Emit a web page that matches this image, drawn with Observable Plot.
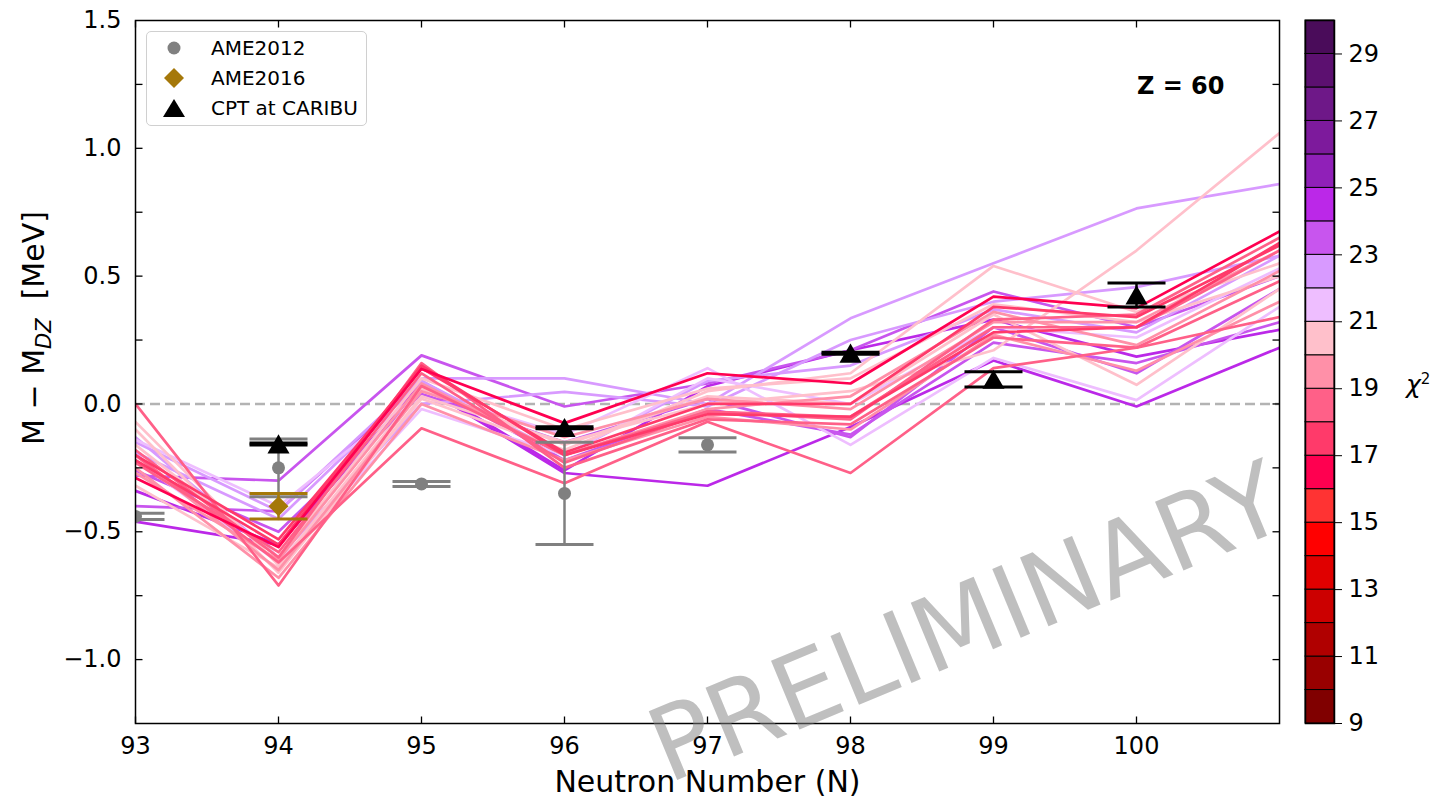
<!DOCTYPE html>
<html>
<head>
<meta charset="utf-8">
<script src="https://cdn.jsdelivr.net/npm/d3@7"></script>
<script src="https://cdn.jsdelivr.net/npm/@observablehq/plot@0.6"></script>
<style>
  html, body { margin: 0; padding: 0; background: #fff; }
  #wrap { position: relative; width: 1439px; height: 807px; overflow: hidden; font-family: "DejaVu Sans", sans-serif; background: #fff; }
  #main { position: absolute; left: 0; top: 0; }
  #cbar { position: absolute; left: 1290px; top: 0; }
  #legend { position: absolute; left: 146px; top: 31px; width: 219px; height: 93px; border: 1.5px solid #d0d0d0; border-radius: 5px; background: rgba(255,255,255,0.85); font-size: 20px; }
  .lrow { position: absolute; left: 0; height: 24px; display: flex; align-items: center; }
  .lrow svg { position: absolute; left: 14px; }
  .lrow span { position: absolute; left: 64px; white-space: nowrap; line-height: 24px; }
  #chilabel { position: absolute; left: 1406px; top: 370px; font-size: 25px; }
</style>
</head>
<body>
<div id="wrap">
  <div id="main"></div>
  <div id="cbar"></div>
  <div id="legend">
    <div class="lrow" style="top:4px"><svg width="26" height="24"><circle cx="13" cy="12" r="6.5" fill="#808080"/></svg><span>AME2012</span></div>
    <div class="lrow" style="top:34px"><svg width="26" height="24"><path d="M13,2L23,12L13,22L3,12Z" fill="#a5780a"/></svg><span>AME2016</span></div>
    <div class="lrow" style="top:64px"><svg width="26" height="24"><path d="M13,3L24,21L2,21Z" fill="#000"/></svg><span>CPT at CARIBU</span></div>
  </div>
  <div id="chilabel"><i>χ</i><sup style="font-size:15px">2</sup></div>
</div>
<script>
// ---------- data ----------
const neutronN = [93, 94, 95, 96, 97, 98, 99, 100, 101];
const xTicks = [93, 94, 95, 96, 97, 98, 99, 100];
const yLabelTicks = [-1.0, -0.5, 0.0, 0.5, 1.0, 1.5];
const yMinorTicks = [-1.0, -0.75, -0.5, -0.25, 0.0, 0.25, 0.5, 0.75, 1.0, 1.25];

// model predictions (M - M_DZ, MeV) at N = 93..101, one array per fit
const fit01 = [-0.29, -0.56, 0.137, -0.075, 0.12, 0.08, 0.42, 0.375, 0.675];
const fit02 = [0.0, -0.71, 0.07, -0.20, -0.03, -0.05, 0.30, 0.30, 0.60];
const fit03 = [-0.20, -0.62, -0.095, -0.31, -0.07, -0.27, 0.14, 0.22, 0.34];
const fit04 = [-0.28, -0.30, 0.19, -0.01, 0.08, 0.21, 0.44, 0.30, 0.50];
const fit05 = [-0.46, -0.55, 0.07, -0.27, -0.32, -0.09, 0.17, -0.01, 0.22];
const fit06 = [-0.15, -0.42, 0.10, 0.10, 0.00, 0.335, 0.55, 0.765, 0.86];
const fit07 = [-0.10, -0.66, 0.03, -0.15, 0.00, 0.05, 0.21, 0.60, 1.06];
const fit08 = [-0.32, -0.64, 0.02, -0.18, 0.05, 0.12, 0.54, 0.36, 0.55];
const fit09 = [-0.13, -0.60, 0.00, 0.047, -0.01, 0.25, 0.40, 0.457, 0.58];
const fit10 = [-0.14, -0.40, 0.05, -0.12, 0.14, -0.16, 0.18, 0.015, 0.38];
const fit11 = [-0.40, -0.42, 0.09, -0.22, -0.02, -0.12, 0.24, 0.16, 0.32];
const fit12 = [-0.34, -0.55, 0.08, -0.26, 0.07, 0.21, 0.33, 0.185, 0.29];
const fit13 = [-0.22, -0.55, 0.15, -0.20, -0.04, -0.05, 0.28, 0.30, 0.63];
const fit14 = [-0.18, -0.60, 0.16, -0.25, -0.06, -0.08, 0.26, 0.22, 0.48];
const fit15 = [-0.20, -0.65, 0.05, -0.13, 0.02, -0.02, 0.32, 0.32, 0.60];
const fit16 = [-0.25, -0.68, 0.00, -0.22, -0.05, -0.10, 0.27, 0.13, 0.40];
const fit17 = [-0.07, -0.63, 0.06, -0.16, 0.03, 0.00, 0.35, 0.075, 0.45];
const fit18 = [-0.23, -0.58, 0.12, -0.23, -0.03, -0.06, 0.33, 0.35, 0.65];
const fit19 = [-0.20, -0.53, 0.14, -0.19, 0.00, 0.00, 0.38, 0.34, 0.62];
const fit20 = [-0.16, -0.60, 0.10, -0.10, 0.06, 0.10, 0.39, 0.32, 0.50];
const fit21 = [-0.22, -0.62, -0.02, -0.20, 0.10, 0.00, 0.30, 0.26, 0.53];
const fit22 = [-0.26, -0.50, 0.04, -0.15, 0.02, -0.13, 0.30, 0.12, 0.45];
const fit23 = [-0.19, -0.45, 0.09, -0.20, 0.09, 0.15, 0.37, 0.28, 0.58];
const fit24 = [-0.27, -0.61, 0.08, -0.20, -0.02, 0.03, 0.36, 0.23, 0.52];
const fitChi2 = [16.5, 18.5, 18.3, 23.5, 24.5, 22.5, 20.5, 20.3, 22.2, 21.5, 23.2, 24.2,
                 17.5, 18.7, 19.5, 19.2, 20.7, 18.2, 17.8, 20.9, 21.3, 23.8, 22.7, 19.7];
const fits = [fit01, fit02, fit03, fit04, fit05, fit06, fit07, fit08, fit09, fit10, fit11, fit12,
              fit13, fit14, fit15, fit16, fit17, fit18, fit19, fit20, fit21, fit22, fit23, fit24];

// experimental values
const ame12N = [93, 94, 95, 96, 97];
const ame12M = [-0.44, -0.25, -0.313, -0.35, -0.16];
const ame12Err = [0.012, 0.113, 0.01, 0.2, 0.028];
const ame16N = [94];
const ame16M = [-0.40];
const ame16Err = [0.05];
const cptN = [94, 96, 98, 99, 100];
const cptM = [-0.157, -0.093, 0.198, 0.096, 0.426];
const cptErr = [0.004, 0.004, 0.004, 0.03, 0.047];

// chi^2 colour bar
const chi2Bins = [9, 10, 11, 12, 13, 14, 15, 16, 17, 18, 19, 20, 21, 22, 23, 24, 25, 26, 27, 28, 29];
const chi2Thresholds = [10, 11, 12, 13, 14, 15, 16, 17, 18, 19, 20, 21, 22, 23, 24, 25, 26, 27, 28, 29];
const chi2Colors = ["#800000", "#990000", "#b00000", "#cc0000", "#e00000", "#ff0000", "#ff3333",
                    "#ff0050", "#ff3a6a", "#ff6088", "#ff90a8", "#ffc0cb", "#eebeff", "#d89aff",
                    "#c855ee", "#bb28e8", "#9020b8", "#7d1a9c", "#6e1888", "#5c1070", "#4a0c5a"];
const chi2Ticks = [9, 11, 13, 15, 17, 19, 21, 23, 25, 27, 29];

// ---------- tables ----------
const order = d3.sort(d3.range(fits.length), i => -fitChi2[i]);
const rows = [];
for (const i of order) fits[i].forEach((m, j) => rows.push({id: i, chi2: fitChi2[i], N: neutronN[j], M: m}));
const toTable = (Ns, Ms, Es) => Ns.map((n, i) => ({N: n, M: Ms[i], err: Es[i]}));
const ame12 = toTable(ame12N, ame12M, ame12Err);
const ame16 = toTable(ame16N, ame16M, ame16Err);
const cpt = toTable(cptN, cptM, cptErr);

// custom symbols
const seg = (x0, y0, x1, y1) => ({draw(ctx) { ctx.moveTo(x0, y0); ctx.lineTo(x1, y1); }});
const capSym = seg(-29, 0, 29, 0);

function errMarks(data, color) {
  return [
    Plot.ruleX(data, {x: "N", y1: d => d.M - d.err, y2: d => d.M + d.err, stroke: color, strokeWidth: 2.5, clip: true}),
    Plot.dot(data, {x: "N", y: d => d.M + d.err, symbol: capSym, stroke: color, fill: "none", strokeWidth: 3, clip: true}),
    Plot.dot(data, {x: "N", y: d => d.M - d.err, symbol: capSym, stroke: color, fill: "none", strokeWidth: 3, clip: true})
  ];
}

const fontStyle = {fontFamily: "'DejaVu Sans', sans-serif", fontSize: "24px", background: "transparent", overflow: "visible", color: "black"};

const main = Plot.plot({
  width: 1290, height: 807,
  marginLeft: 135, marginRight: 11, marginTop: 20, marginBottom: 84,
  style: fontStyle,
  x: {domain: [93, 101]},
  y: {domain: [-1.25, 1.5]},
  color: {type: "threshold", domain: chi2Thresholds, range: chi2Colors},
  marks: [
    Plot.ruleY([0], {stroke: "#b3b3b3", strokeWidth: 2.5, strokeDasharray: "10,5"}),
    Plot.line(rows, {x: "N", y: "M", z: "id", stroke: "chi2", strokeWidth: 2.7, clip: true}),
    ...errMarks(ame12, "#808080"),
    Plot.dot(ame12, {x: "N", y: "M", r: 6.5, fill: "#808080", stroke: "none", clip: true}),
    ...errMarks(ame16, "#a5780a"),
    Plot.dot(ame16, {x: "N", y: "M", r: 9, symbol: "diamond2", fill: "#a5780a", stroke: "none", clip: true}),
    ...errMarks(cpt, "black"),
    Plot.dot(cpt, {x: "N", y: "M", r: 8.2, symbol: "triangle", dy: 3, fill: "black", stroke: "none", clip: true}),
    Plot.axisX({ticks: xTicks, tickSize: 0, tickPadding: 13, tickFormat: d => String(d), label: null}),
    Plot.axisY({ticks: yLabelTicks, tickSize: 0, tickPadding: 14, tickFormat: d3.format(".1f"), label: null}),
    Plot.dot(yMinorTicks, {y: d => d, frameAnchor: "left", symbol: seg(0, 0, 7, 0), stroke: "black", fill: "none", strokeWidth: 1.3}),
    Plot.dot(yMinorTicks, {y: d => d, frameAnchor: "right", symbol: seg(0, 0, -7, 0), stroke: "black", fill: "none", strokeWidth: 1.3}),
    Plot.dot(xTicks, {x: d => d, frameAnchor: "bottom", symbol: seg(0, 0, 0, -7), stroke: "black", fill: "none", strokeWidth: 1.3}),
    Plot.dot(xTicks, {x: d => d, frameAnchor: "top", symbol: seg(0, 0, 0, 7), stroke: "black", fill: "none", strokeWidth: 1.3}),
    Plot.frame({stroke: "black", strokeWidth: 1.5}),
    Plot.text(["Neutron Number (N)"], {frameAnchor: "bottom", dy: 68, fontSize: 30}),
    Plot.text(["Z = 60"], {frameAnchor: "top-right", dx: -55, dy: 56, textAnchor: "end", fontWeight: "bold", fontSize: 24})
  ]
});
document.getElementById("main").appendChild(main);

// y-axis label with subscript
const svg = d3.select(main);
const yl = svg.append("text")
  .attr("transform", "translate(44,328) rotate(-90)")
  .attr("text-anchor", "middle")
  .attr("font-size", 30)
  .attr("fill", "black");
yl.append("tspan").text("M \u2212 M");
yl.append("tspan").attr("dy", 7).attr("font-size", 21).attr("font-style", "italic").text("DZ");
yl.append("tspan").attr("dy", -7).text("\u00a0\u00a0[MeV]");

// watermark
svg.append("text")
  .attr("transform", "translate(966,622) rotate(-22.5)")
  .attr("text-anchor", "middle")
  .attr("dominant-baseline", "central")
  .attr("font-size", 102)
  .attr("fill", "#808080")
  .attr("fill-opacity", 0.5)
  .text("PRELIMINARY");

// colour bar
const cbar = Plot.plot({
  width: 149, height: 807,
  marginLeft: 15, marginRight: 105, marginTop: 20, marginBottom: 84,
  style: fontStyle,
  x: {domain: [0, 1], axis: null},
  y: {domain: [9, 30], axis: null},
  marks: [
    Plot.rect(chi2Bins, {x1: 0, x2: 1, y1: d => d, y2: d => d + 1, fill: (d, i) => chi2Colors[i], stroke: "black", strokeWidth: 1}),
    Plot.axisY({anchor: "right", ticks: chi2Ticks, tickSize: 7, tickPadding: 7, tickFormat: d => String(d), label: null}),
    Plot.frame({stroke: "black", strokeWidth: 1.5})
  ]
});
document.getElementById("cbar").appendChild(cbar);
</script>
</body>
</html>
